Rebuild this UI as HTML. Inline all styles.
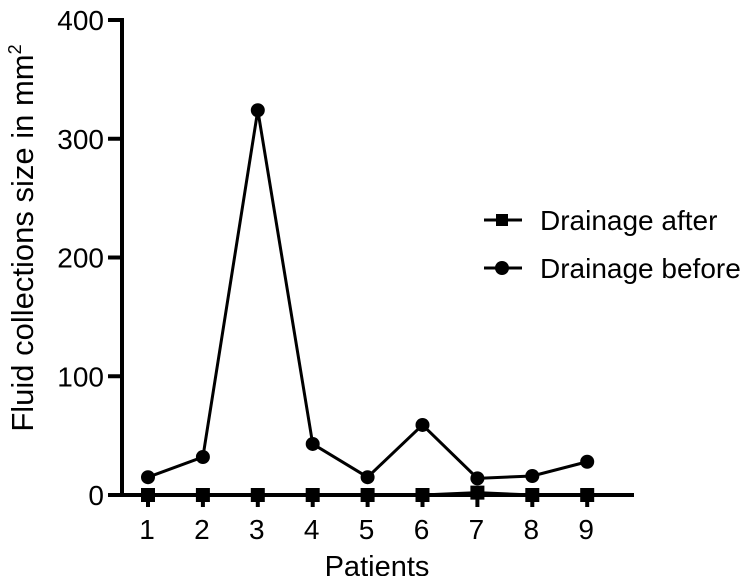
<!DOCTYPE html>
<html><head><meta charset="utf-8"><style>
body{margin:0;background:#fff}
svg text{font-family:"Liberation Sans",sans-serif;fill:#000}
</style></head><body>
<svg width="752" height="576" viewBox="0 0 752 576">
<g id="axes"></g>
<g id="series"></g>
<text x="377" y="576" font-size="29" text-anchor="middle">Patients</text>
<text transform="translate(33,238) rotate(-90)" font-size="31" text-anchor="middle">Fluid collections size in mm<tspan dy="-12" font-size="18">2</tspan></text>
<g>
<g>
<line x1="484" y1="220" x2="522" y2="220" stroke="#000" stroke-width="3"/>
<rect x="496" y="214" width="12" height="12" fill="#000"/>
<text x="540" y="230" font-size="28">Drainage after</text></g>
<g>
<line x1="484" y1="268" x2="522" y2="268" stroke="#000" stroke-width="3"/>
<circle cx="502" cy="268" r="7" fill="#000"/>
<text x="540" y="278" font-size="28">Drainage before</text></g>
</g>
</svg>
<script>
const categories=["1","2","3","4","5","6","7","8","9"];
const beforeValues=[15,32,324,43,15,59,14,16,28];
const afterValues=[0,0,0,0,0,0,2,0,0];
const yTicks=[0,100,200,300,400];
const NS="http://www.w3.org/2000/svg";
const x0=148,dx=54.9,yBase=495,yScale=475/400;
const xPos=i=>x0+i*dx;
const yPos=v=>yBase-v*yScale;
function mk(t,a,p){const e=document.createElementNS(NS,t);for(const k in a)e.setAttribute(k,a[k]);p.appendChild(e);return e;}
const axes=document.getElementById('axes'),ser=document.getElementById('series');
let e=mk('line',{x1:122,y1:yPos(400)-2,x2:122,y2:yBase,stroke:'#000','stroke-width':4},axes);


e=mk('line',{x1:108,y1:yBase,x2:634,y2:yBase,stroke:'#000','stroke-width':4},axes);


yTicks.forEach(v=>{
 const y=yPos(v);
 let t=mk('line',{x1:108,y1:y,x2:122,y2:y,stroke:'#000','stroke-width':4},axes);
 
 
 let l=mk('text',{x:104,y:y+10,'font-size':28,'text-anchor':'end'},axes);
 l.textContent=v;
 
 
});
categories.forEach((c,i)=>{
 const x=xPos(i);
 let t=mk('line',{x1:x,y1:yBase,x2:x,y2:yBase+12,stroke:'#000','stroke-width':4},axes);
 
 
 let l=mk('text',{x:x-1,y:539,'font-size':28,'text-anchor':'middle'},axes);
 l.textContent=c;
 
 
});
function line(vals,name){
 const p=mk('polyline',{points:vals.map((v,i)=>xPos(i)+','+yPos(v)).join(' '),fill:'none',stroke:'#000','stroke-width':3},ser);
 
 
}
line(afterValues,'line-drainage-after');
line(beforeValues,'line-drainage-before');
afterValues.forEach((v,i)=>{
 const r=mk('rect',{x:xPos(i)-7,y:yPos(v)-7,width:14,height:14,fill:'#000'},ser);
 
 
});
beforeValues.forEach((v,i)=>{
 const c=mk('circle',{cx:xPos(i),cy:yPos(v),r:7,fill:'#000'},ser);
 
 
});
</script>
</body></html>
